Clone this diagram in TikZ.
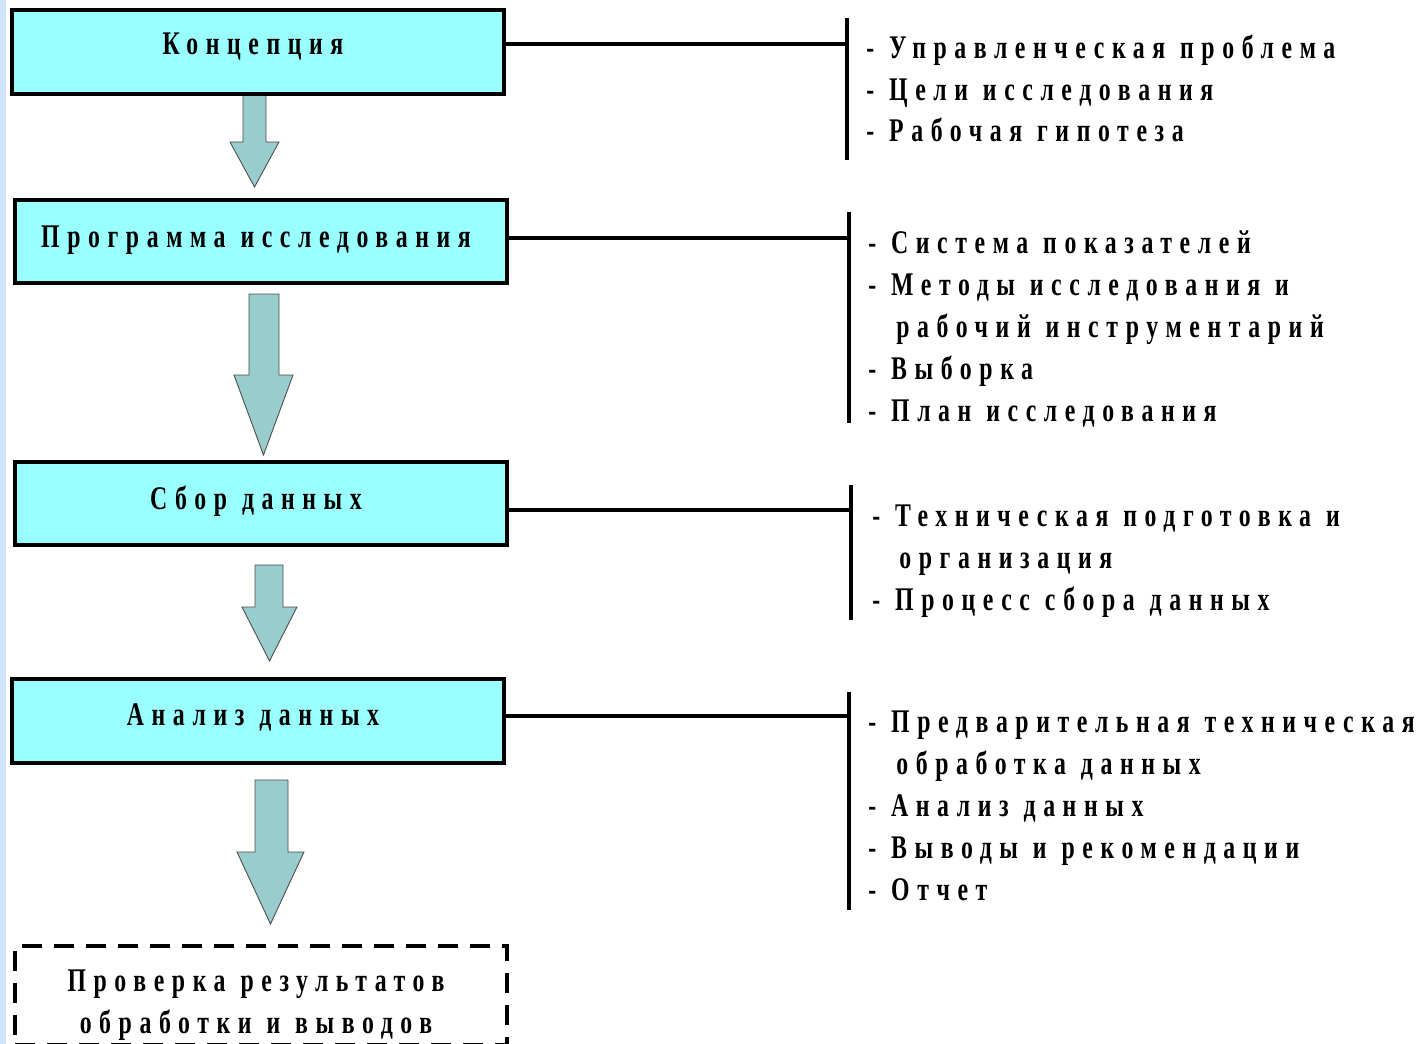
\documentclass[tikz,border=0pt]{standalone}
\usepackage{fontspec}
\newfontfamily\cf{Liberation Serif}[FakeStretch=0.72,LetterSpace=23,WordSpace=1.1]
\usetikzlibrary{fit}
\definecolor{stagefill}{RGB}{153,255,255}
\definecolor{arrowfill}{RGB}{153,204,204}
\definecolor{edgeblue}{RGB}{207,230,250}
\begin{document}
\begin{tikzpicture}[x=0.02cm,y=-0.02cm,
  stage/.style={draw=black, line width=0.08cm, fill=stagefill, inner sep=0pt},
  finalstage/.style={draw=black, line width=0.08cm, dash pattern=on 0.4cm off 0.24cm, inner sep=0pt},
  stagetext/.style={font={\cf\bfseries\fontsize{18.8}{23.6}\selectfont}, inner sep=0pt, anchor=base, align=center},
  itemlist/.style={font={\cf\bfseries\fontsize{18.8}{23.8}\selectfont}, inner sep=0pt, anchor=base west, align=left},
  blockarrow/.style={draw={black!70}, line width=0.5pt, fill=arrowfill, line join=miter},
  link/.style={line width=0.075cm},
  bar/.style={line width=0.08cm}]
\useasboundingbox (0,0) rectangle (1423,1044);
\fill[white] (0,0) rectangle (1423,1044);
\fill[edgeblue] (0,0) rectangle (6,1044);

% block arrows between the stages
\draw[blockarrow] (243,94) -- (266,94) -- (266,142) -- (279,142) -- (254.5,187) -- (230,142) -- (243,142) -- cycle;
\draw[blockarrow] (249,294) -- (279,294) -- (279,375) -- (293,375) -- (263.5,455) -- (234,375) -- (249,375) -- cycle;
\draw[blockarrow] (255,565) -- (283,565) -- (283,607) -- (297,607) -- (269.5,661) -- (242,607) -- (255,607) -- cycle;
\draw[blockarrow] (255,780) -- (288,780) -- (288,852) -- (304,852) -- (270.5,924) -- (237,852) -- (255,852) -- cycle;

% stages
\node[stage, fit={(12,10) (504,94)}] (s1) {};
\node[stage, fit={(15,200) (507,283)}] (s2) {};
\node[stage, fit={(15,462) (507,545)}] (s3) {};
\node[stage, fit={(12,679) (504,763)}] (s4) {};
\node[finalstage, fit={(15,946) (507,1045)}] (s5) {};

% stage titles (base anchor = baseline of the last line)
\node[stagetext] (t1) at (253,55) {Концепция};
\node[stagetext] (t2) at (256,248) {Программа исследования};
\node[stagetext] (t3) at (256,509) {Сбор данных};
\node[stagetext] (t4) at (253,725) {Анализ данных};
\node[stagetext] (t5) at (256,1033) {Проверка результатов\\обработки и выводов};

% brackets on the right
\coordinate (j1) at (847,44);  \draw[bar] (847,18) -- (847,160);
\coordinate (j2) at (849,238); \draw[bar] (849,212) -- (849,423);
\coordinate (j3) at (851,510); \draw[bar] (851,485) -- (851,620);
\coordinate (j4) at (849,716); \draw[bar] (849,692) -- (849,910);

\draw[link] (s1.east |- j1) -- (j1);
\draw[link] (s2.east |- j2) -- (j2);
\draw[link] (s3.east |- j3) -- (j3);
\draw[link] (s4.east |- j4) -- (j4);

% contents of each stage (placed by the baseline of the last line)
\node[itemlist] (l1) at (866,142) {- Управленческая проблема\\- Цели исследования\\- Рабочая гипотеза};
\node[itemlist] (l2) at (868,421) {- Система показателей\\- Методы исследования и\\\hspace*{0.56cm}рабочий инструментарий\\- Выборка\\- План исследования};
\node[itemlist] (l3) at (872,610) {- Техническая подготовка и\\\hspace*{0.54cm}организация\\- Процесс сбора данных};
\node[itemlist] (l4) at (868,900) {- Предварительная техническая\\\hspace*{0.56cm}обработка данных\\- Анализ данных\\- Выводы и рекомендации\\- Отчет};
\end{tikzpicture}
\end{document}
